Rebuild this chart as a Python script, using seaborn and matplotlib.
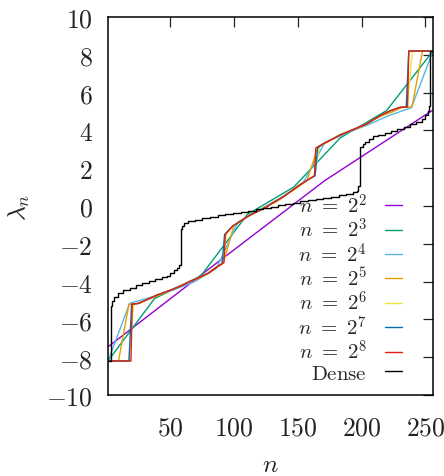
import numpy as np
import pandas as pd
import matplotlib
matplotlib.use("Agg")
import matplotlib.pyplot as plt
import seaborn as sns
from matplotlib.ticker import FuncFormatter, FixedLocator

# ---------------- data ----------------
n4_y = [-7.45, -3.03, 1.34, 5.08]
n8_y = [-8.2, -4.9, -3.7, -0.45, 1.0, 3.6, 5.05, 8.2]
n16_y = [-8.2, -5.15, -4.82, -4.45, -4.0, -3.3, -0.85, -0.2,
         0.45, 1.2, 3.35, 3.85, 4.3, 4.8, 5.2, 8.2]
n32_y = [-8.2, -8.2, -5.2, -5.15, -4.9, -4.7, -4.45, -4.2,
         -3.95, -3.75, -3.35, -3.0, -1.05, -0.65, -0.35, -0.05,
         0.2, 0.6, 0.95, 1.35, 3.1, 3.4, 3.75, 3.95,
         4.15, 4.45, 4.75, 4.95, 5.2, 5.25, 8.2, 8.2]

n64_x = [1, 17.2, 21.2, 25, 30, 35, 40, 46, 52, 59, 65, 70, 75, 80, 86, 90.0,
         94.1, 99, 105, 112, 118, 125, 131, 138, 145, 151, 157, 162.9,
         166.9, 170, 177, 184, 191, 197, 204, 210, 217, 223, 230, 235.8, 239.8, 256]
n64_y = [-8.2, -8.2, -5.2, -5.15, -5.0, -4.85, -4.7, -4.55, -4.4, -4.2, -4.0, -3.86, -3.7, -3.55, -3.25, -3.1,
         -1.45, -1.05, -0.8, -0.5, -0.3, -0.07, 0.2, 0.46, 0.8, 1.1, 1.35, 1.6,
         3.15, 3.3, 3.54, 3.78, 3.98, 4.15, 4.34, 4.6, 4.87, 5.05, 5.22, 5.24, 8.2, 8.2]

n128_x = [1, 17.5, 19.5, 25, 30, 35, 40, 46, 52, 59, 65, 70, 75, 80, 86, 90.5,
          92.5, 99, 105, 112, 118, 125, 131, 138, 145, 151, 157, 163.5,
          165.5, 170, 177, 184, 191, 197, 204, 210, 217, 223, 230, 235, 237, 256]
n128_y = [-8.2, -8.2, -5.2, -5.15, -5.0, -4.85, -4.7, -4.55, -4.4, -4.2, -4.0, -3.86, -3.7, -3.55, -3.25, -3.05,
          -1.5, -1.05, -0.8, -0.5, -0.3, -0.07, 0.2, 0.46, 0.8, 1.1, 1.35, 1.6,
          3.07, 3.3, 3.54, 3.78, 3.98, 4.15, 4.34, 4.6, 4.87, 5.05, 5.22, 5.24, 8.2, 8.2]

n256_x = [1, 19, 20, 25, 30, 35, 40, 46, 52, 59, 65, 70, 75, 80, 86, 92,
          93, 99, 105, 112, 118, 125, 131, 138, 145, 151, 157, 163,
          164, 170, 177, 184, 191, 197, 204, 210, 217, 223, 230, 236, 237, 256]
n256_y = [-8.2, -8.2, -5.2, -5.15, -5.0, -4.85, -4.7, -4.55, -4.4, -4.2, -4.0, -3.86, -3.7, -3.55, -3.25, -3.0,
          -1.5, -1.05, -0.8, -0.5, -0.3, -0.07, 0.2, 0.46, 0.8, 1.1, 1.35, 1.6,
          3.07, 3.3, 3.54, 3.78, 3.98, 4.15, 4.34, 4.6, 4.87, 5.05, 5.22, 5.24, 8.2, 8.2]

dense_x = [1, 3, 4, 6, 9, 13, 18, 23, 28, 33, 38, 43, 47, 50, 53, 55, 57, 58,
           59, 61, 64, 69, 75, 81, 87, 93, 99, 105, 111, 117, 123, 129,
           134, 140, 146, 152, 158, 164, 170, 176, 182, 188, 193, 196, 197, 199,
           201, 203, 206, 209, 213, 218, 223, 228, 233, 238, 243, 247, 250, 252, 253, 254, 256]
dense_y = [-8.2, -5.3, -5.0, -4.8, -4.6, -4.45, -4.33, -4.2, -4.08, -3.97, -3.88, -3.78, -3.68, -3.55, -3.4, -3.28, -3.12, -1.2,
           -1.05, -0.9, -0.82, -0.74, -0.66, -0.58, -0.5, -0.44, -0.37, -0.31, -0.25, -0.17, -0.09, -0.03,
           0.03, 0.09, 0.17, 0.25, 0.31, 0.37, 0.44, 0.5, 0.58, 0.66, 0.74, 0.82, 1.05, 3.12,
           3.28, 3.4, 3.55, 3.68, 3.78, 3.88, 3.97, 4.08, 4.2, 4.33, 4.45, 4.6, 4.8, 5.0, 5.3, 8.2, 8.2]

labels = [r"$n\ =\ 2^{2}$", r"$n\ =\ 2^{3}$", r"$n\ =\ 2^{4}$", r"$n\ =\ 2^{5}$",
          r"$n\ =\ 2^{6}$", r"$n\ =\ 2^{7}$", r"$n\ =\ 2^{8}$", r"$\mathrm{Dense}$"]
colors = ["#9400D3", "#009E73", "#56B4E9", "#E69F00",
          "#F0E442", "#0072B2", "#E51E10", "#000000"]
x_ticks = [50, 100, 150, 200, 250]
y_ticks = [-10, -8, -6, -4, -2, 0, 2, 4, 6, 8, 10]

# ---------------- figure ----------------
sns.set_style("white")
plt.rcParams["mathtext.fontset"] = "cm"
plt.rcParams["font.family"] = ["DejaVu Serif"]
FS = 18.5
LFS = 15.0

fig = plt.figure(figsize=(4.44, 4.77), dpi=100)
ax = fig.add_axes([108 / 444, 1 - 396 / 477, (433 - 108) / 444, (396 - 18) / 477])

series = [
    (np.linspace(1, 256, len(n4_y)), n4_y),
    (np.linspace(1, 256, len(n8_y)), n8_y),
    (np.linspace(1, 256, len(n16_y)), n16_y),
    (np.linspace(1, 256, len(n32_y)), n32_y),
    (n64_x, n64_y),
    (n128_x, n128_y),
    (n256_x, n256_y),
]
handles = []
for (xs, ys), c in zip(series, colors[:7]):
    df = pd.DataFrame({"x": xs, "y": ys})
    sns.lineplot(data=df, x="x", y="y", color=c, lw=1.0, sort=False,
                 estimator=None, ax=ax, legend=False)
    handles.append(ax.lines[-1])
dfd = pd.DataFrame({"x": dense_x, "y": dense_y})
sns.lineplot(data=dfd, x="x", y="y", color=colors[7], lw=1.0, sort=False,
             estimator=None, ax=ax, legend=False, drawstyle="steps-post")
handles.append(ax.lines[-1])

ax.set_xlim(1, 256)
ax.set_ylim(-10, 10)
ax.xaxis.set_major_locator(FixedLocator(x_ticks))
ax.yaxis.set_major_locator(FixedLocator(y_ticks))
fmt = FuncFormatter(lambda v, p: r"$%d$" % int(round(v)))
ax.xaxis.set_major_formatter(fmt)
ax.yaxis.set_major_formatter(fmt)
ax.tick_params(axis="both", which="major", direction="in", length=7.2, width=0.9,
               top=True, right=True, labelsize=FS, colors="#222222")
ax.tick_params(axis="x", pad=14)
ax.tick_params(axis="y", pad=11)
for s in ax.spines.values():
    s.set_visible(True)
    s.set_linewidth(1.1)
    s.set_color("black")

ax.set_xlabel(r"$n$", fontsize=FS, labelpad=8)
ax.set_ylabel(r"$\lambda_n$", fontsize=FS, labelpad=10)

ax.legend(handles, labels, loc="lower right", bbox_to_anchor=(0.905, 0.033),
          markerfirst=False, frameon=False,
          fontsize=LFS, handlelength=0.82, handletextpad=0.87, labelspacing=0.02,
          borderpad=0.0, borderaxespad=0.0)

fig.savefig("out.png", dpi=100)
